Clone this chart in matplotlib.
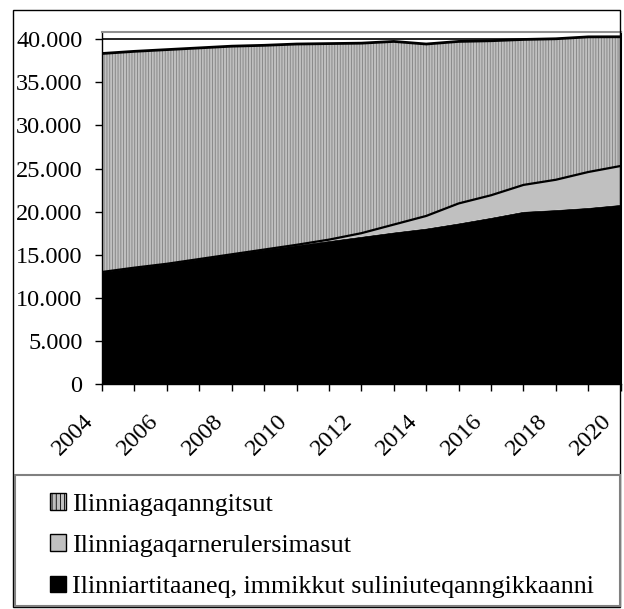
import numpy as np
import matplotlib
matplotlib.use("Agg")
import matplotlib.pyplot as plt
import matplotlib.transforms as mtransforms
from matplotlib.patches import Patch, Rectangle
from matplotlib.ticker import FuncFormatter, MultipleLocator

years = list(range(2004, 2021))

# Ilinniartitaaneq, immikkut suliniuteqanngikkaanni (black, bottom)
basic = [13000, 13500, 13950, 14500, 15050, 15600, 16100, 16600, 17100,
         17600, 18050, 18650, 19300, 20000, 20200, 20450, 20800]
# Ilinniagaqarnerulersimasut (grey, middle)
further = [0, 0, 0, 0, 0, 0, 50, 150, 400,
           900, 1450, 2300, 2600, 3100, 3500, 4150, 4500]
# Ilinniagaqanngitsut (hatched, top) -> stacked total
total = [38350, 38600, 38800, 39000, 39200, 39300, 39450, 39500, 39550,
         39750, 39450, 39750, 39830, 39980, 40060, 40280, 40290]

labels = ["Ilinniagaqanngitsut",
          "Ilinniagaqarnerulersimasut",
          "Ilinniartitaaneq, immikkut suliniuteqanngikkaanni"]

plt.rcParams["font.family"] = ["Liberation Serif", "DejaVu Serif"]
plt.rcParams["font.size"] = 18.7
plt.rcParams["hatch.linewidth"] = 0.6

x = np.array(years)
b = np.array(basic)
mid = b + np.array(further)
top = np.array(total)

fig = plt.figure(figsize=(6.24, 6.09), dpi=100)
ax = fig.add_axes([102 / 624, 1 - 384 / 609, (620.7 - 102) / 624, (384 - 31.7) / 609])

ax.axhline(40000, color="black", lw=1.2, zorder=1)
ax.fill_between(x, 0, b, facecolor="black", edgecolor="black", lw=0.5, zorder=2)
ax.fill_between(x, b, mid, facecolor="#c0c0c0", edgecolor="none", lw=0, zorder=2)
ax.fill_between(x, mid, top, facecolor="#c0c0c0", edgecolor="#808080",
                lw=0, hatch="||||||", zorder=2)
ax.plot(x, mid, color="black", lw=1.6, zorder=3)
ax.plot(x, top, color="black", lw=2, zorder=3)

ax.set_xlim(2004, 2020)
ax.set_ylim(0, 40880)
ax.yaxis.set_major_locator(MultipleLocator(5000))
ax.yaxis.set_major_formatter(FuncFormatter(lambda v, p: f"{v:,.0f}".replace(",", ".")))
ax.set_xticks(years[::2])
ax.set_xticks(years[1::2], minor=True)
ax.set_xticklabels([str(y) for y in years[::2]], rotation=45, ha="right",
                   va="center", rotation_mode="anchor")
ax.tick_params(axis="both", which="both", direction="out", length=5, width=1,
               colors="black", labelsize=17.5)
ax.tick_params(axis="y", pad=9)
ax.tick_params(axis="x", pad=8)

shift = mtransforms.ScaledTranslation(-0.12, -0.16, fig.dpi_scale_trans)
for lbl in ax.get_xticklabels():
    lbl.set_transform(lbl.get_transform() + shift)

ax.spines["top"].set_color("#909090")
ax.spines["top"].set_linewidth(1.5)
ax.spines["right"].set_linewidth(1.5)
for s in ["left", "bottom"]:
    ax.spines[s].set_linewidth(1)

# outer frame and legend box
fig.patches.append(Rectangle((13 / 624, 1 - 607 / 609), 607 / 624, 597 / 609,
                             transform=fig.transFigure, fill=False, ec="black", lw=1))
fig.patches.append(Rectangle((15 / 624, 1 - 606 / 609), 605 / 624, 131 / 609,
                             transform=fig.transFigure, fill=False, ec="#808080", lw=1.5))

handles = [Patch(facecolor="#c0c0c0", edgecolor="#808080", hatch="||||", lw=1),
           Patch(facecolor="#c0c0c0", edgecolor="black", lw=1),
           Patch(facecolor="black", edgecolor="black", lw=1)]
leg = fig.legend(handles, labels, loc="upper left", bbox_to_anchor=(40 / 624, 1 - 483 / 609),
                 frameon=False, handlelength=0.6, handleheight=0.6,
                 handletextpad=0.22, labelspacing=0.72, borderaxespad=0)
leg.legend_handles[0].set_edgecolor("black")

fig.savefig("out.png", dpi=100)
